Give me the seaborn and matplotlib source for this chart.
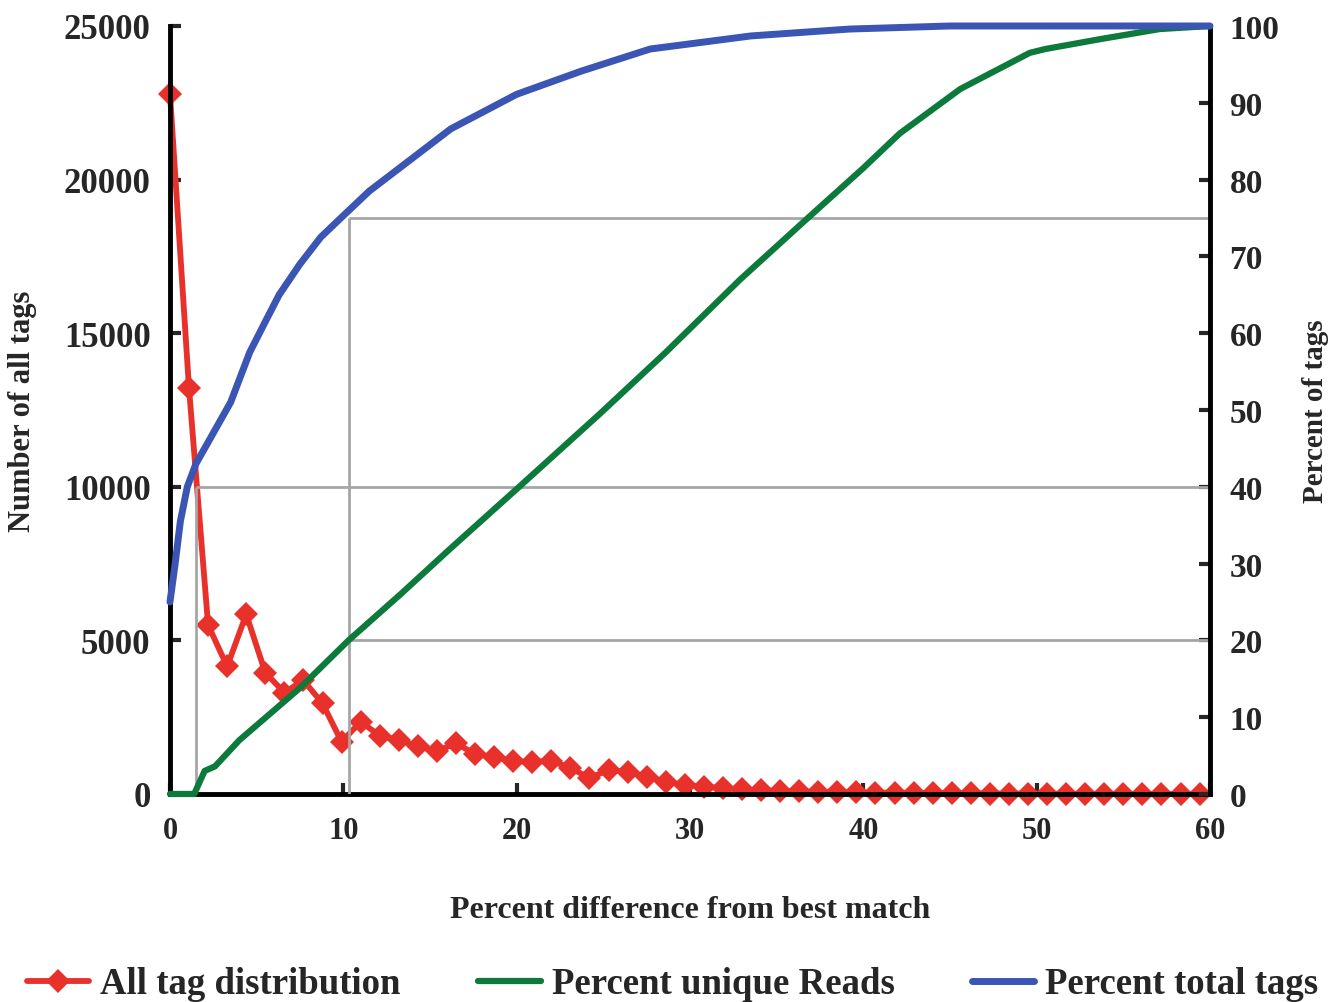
import matplotlib
matplotlib.use("Agg")
import matplotlib.pyplot as plt
import seaborn as sns
from matplotlib.lines import Line2D

# --- data ---
# all tag distribution (left axis, counts), one point per 1.1 % bin
tag_x = [0.0, 1.1, 2.2, 3.3, 4.4, 5.5, 6.6, 7.7, 8.8, 9.9,
         11.0, 12.1, 13.2, 14.3, 15.4, 16.5, 17.6, 18.7, 19.8, 20.9,
         22.0, 23.1, 24.2, 25.3, 26.4, 27.5, 28.6, 29.7, 30.8, 31.9,
         33.0, 34.1, 35.2, 36.3, 37.4, 38.5, 39.6, 40.7, 41.8, 42.9,
         44.0, 45.1, 46.2, 47.3, 48.4, 49.5, 50.6, 51.7, 52.8, 53.9,
         55.0, 56.1, 57.2, 58.3, 59.4]
tag_counts = [22800, 13200, 5500, 4150, 5850, 3950, 3300, 3700, 2950, 1700,
              2350, 1900, 1750, 1550, 1400, 1650, 1300, 1200, 1070, 1040,
              1080, 850, 520, 780, 720, 560, 400, 290, 240, 190,
              150, 120, 100, 85, 70, 60, 50, 45, 40, 35,
              30, 25, 20, 15, 12, 10, 8, 6, 5, 4,
              3, 2, 2, 1, 1]

# percent unique reads (right axis)
unique_x = [0, 1.4, 2.0, 2.6, 4.0, 7.5, 10.3, 13.3, 16.2, 20.0, 24.8,
            28.6, 32.9, 36.8, 40.0, 42.1, 45.6, 49.6, 50.5, 53.7, 57.1, 60]
unique_pct = [0, 0, 3, 3.6, 7, 13.8, 20, 26, 32, 39.7, 49.5,
              57.5, 67, 75, 81.5, 86, 91.8, 96.5, 97, 98.3, 99.6, 100]

# percent total tags (right axis)
total_x = [0, 0.3, 0.6, 1.0, 1.5, 2.5, 3.5, 4.6, 5.5, 6.3, 7.5, 8.7,
           10.0, 11.5, 13.3, 16.2, 20.0, 23.7, 27.7, 33.5, 39.2, 45, 60]
total_pct = [25, 30, 35.5, 40, 43, 47, 51, 57.5, 61.5, 65, 69, 72.5,
             75.3, 78.5, 81.6, 86.6, 91.1, 94.1, 97, 98.7, 99.6, 100, 100]

# reference cuts: (percent difference, percent of tags)
cut_x = [1.5, 10.3]
cut_pct = [40, 75]
extra_pct = 20  # second horizontal line from the 10.3 cut

RED = "#e8312a"
GREEN = "#0b7a3b"
BLUE = "#3a55b4"
GREY = "#a6a6a6"

sns.set_style("ticks")
plt.rcParams["font.family"] = ["Liberation Serif", "DejaVu Serif"]
plt.rcParams["font.weight"] = "bold"
plt.rcParams["axes.labelweight"] = "bold"

fig = plt.figure(figsize=(13.32, 10.03), dpi=100)
ax = fig.add_axes([0.1276, 0.2074, 0.7808, 0.7657])
ax2 = ax.twinx()

sns.lineplot(x=tag_x, y=tag_counts, ax=ax, color=RED, lw=4.2,
             marker="D", markersize=12.5, markeredgewidth=0,
             clip_on=False, legend=False)

# grey guide lines
for cx, cp in zip(cut_x, cut_pct):
    ax2.vlines(cx, 0, cp, color=GREY, lw=2, zorder=1)
    ax2.hlines(cp, cx, 60, color=GREY, lw=2, zorder=1)
ax2.hlines(extra_pct, cut_x[1], 60, color=GREY, lw=2, zorder=1)

sns.lineplot(x=unique_x, y=unique_pct, ax=ax2, color=GREEN, lw=4.5,
             clip_on=False, legend=False, zorder=3)
sns.lineplot(x=total_x, y=total_pct, ax=ax2, color=BLUE, lw=5,
             clip_on=False, legend=False, zorder=3)

ax.set_xlim(0, 60)
ax.set_ylim(0, 25000)
ax2.set_ylim(0, 100)
ax.set_xticks(range(0, 61, 10))
ax.set_yticks(range(0, 25001, 5000))
ax2.set_yticks(range(0, 101, 10))

for a in (ax, ax2):
    a.spines["top"].set_visible(False)
    for s in ("left", "right", "bottom"):
        a.spines[s].set_linewidth(3.5)
        a.spines[s].set_color("black")
ax.spines["right"].set_visible(False)
ax2.spines["left"].set_visible(False)
ax2.spines["bottom"].set_visible(False)

ax.tick_params(axis="y", direction="in", length=8, width=3, labelsize=25, pad=14)
ax.tick_params(axis="x", direction="in", length=8, width=3, labelsize=22, pad=16)
ax2.tick_params(axis="y", direction="in", length=8, width=3, labelsize=24, pad=14)

ax.set_xlabel("Percent difference from best match", fontsize=23)
ax.xaxis.set_label_coords(0.5, -0.131)
ax.set_ylabel("Number of all tags", fontsize=22)
ax.yaxis.set_label_coords(-0.128, 0.5)
ax2.set_ylabel("Percent of tags", fontsize=21)
ax2.yaxis.set_label_coords(1.088, 0.5)

handles = [
    Line2D([], [], color=RED, lw=4.2, marker="D", markersize=12.5, markeredgewidth=0),
    Line2D([], [], color=GREEN, lw=4.5),
    Line2D([], [], color=BLUE, lw=5),
]
labels = ["All tag distribution", "Percent unique Reads", "Percent total tags"]
fig.legend(handles, labels, loc="center", bbox_to_anchor=(0.505, 0.018), ncol=3,
           frameon=False, fontsize=26.5, handlelength=1.7, handletextpad=0.3,
           columnspacing=2.1)

fig.savefig("out.png", dpi=100)
